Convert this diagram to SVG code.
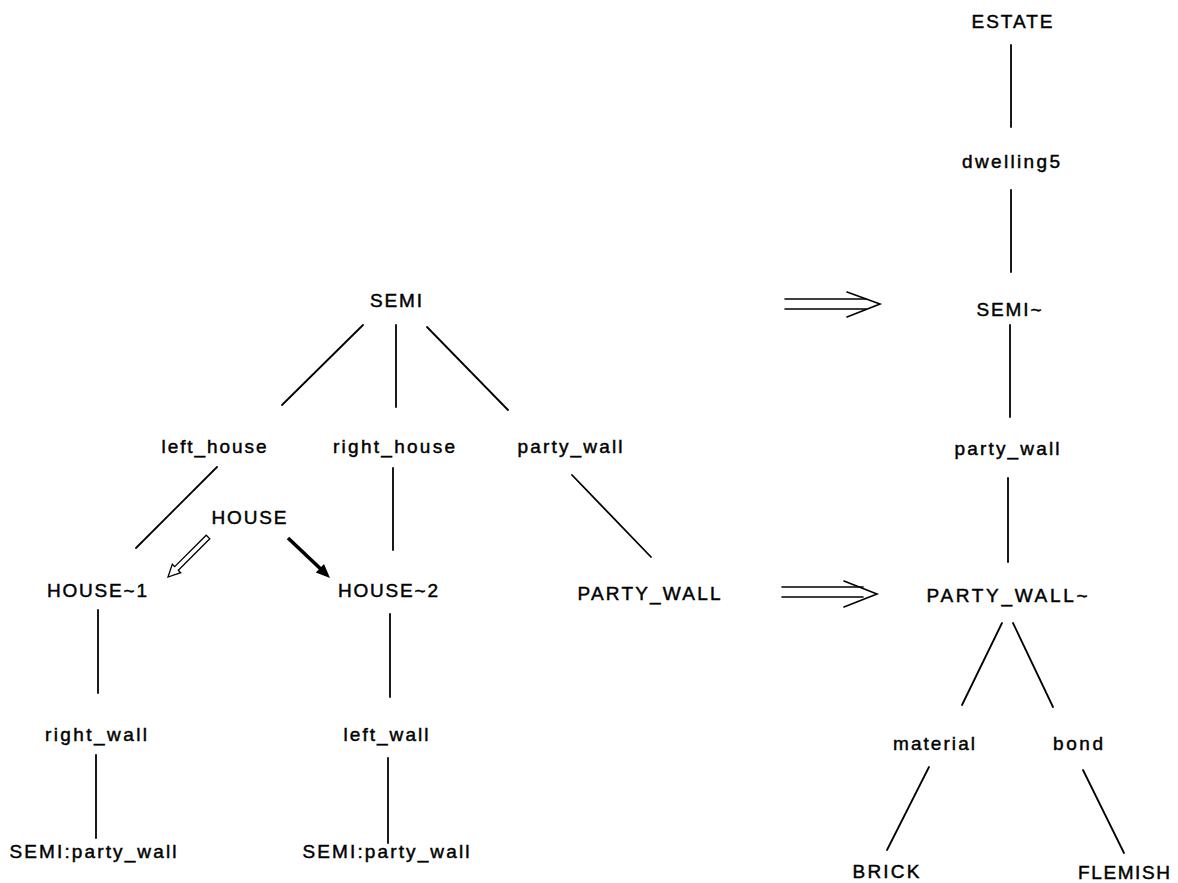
<svg xmlns="http://www.w3.org/2000/svg" width="1178" height="883" viewBox="0 0 1178 883">
  <style>
    .lbl { font-family: "Liberation Sans", Arial, sans-serif; font-size: 19px; fill: #000; stroke: #000; stroke-width: 0.45px; text-anchor: middle; }
    .edge { stroke: #000; stroke-width: 1.8; fill: none; stroke-linecap: round; }
    .imp { stroke: #000; stroke-width: 1.6; fill: none; stroke-linecap: round; stroke-linejoin: miter; }
  </style>
  <rect width="1178" height="883" fill="#fff"/>

  <!-- tree edges -->
  <g id="connectors">
    <line class="edge" x1="363" y1="325" x2="282" y2="405"/>
    <line class="edge" x1="396" y1="325" x2="396" y2="407"/>
    <line class="edge" x1="427" y1="327" x2="508" y2="410"/>
    <line class="edge" x1="217" y1="467" x2="136" y2="548"/>
    <line class="edge" x1="393" y1="468" x2="393" y2="550"/>
    <line class="edge" x1="572" y1="475" x2="651" y2="557"/>
    <line class="edge" x1="98" y1="610" x2="98" y2="693"/>
    <line class="edge" x1="96" y1="755" x2="96" y2="838"/>
    <line class="edge" x1="390" y1="614" x2="390" y2="697"/>
    <line class="edge" x1="388" y1="758" x2="388" y2="843"/>
    <line class="edge" x1="1011" y1="45" x2="1011" y2="127"/>
    <line class="edge" x1="1011" y1="190" x2="1011" y2="272"/>
    <line class="edge" x1="1010" y1="325" x2="1010" y2="417"/>
    <line class="edge" x1="1008" y1="478" x2="1008" y2="562"/>
    <line class="edge" x1="1002" y1="623" x2="962" y2="705"/>
    <line class="edge" x1="1013" y1="623" x2="1053" y2="707"/>
    <line class="edge" x1="929" y1="767" x2="887" y2="850"/>
    <line class="edge" x1="1083" y1="770" x2="1124" y2="853"/>

    <!-- hollow arrow HOUSE to HOUSE~1 -->
    <polygon fill="#fff" stroke="#000" stroke-width="1.3" stroke-linejoin="miter"
      points="209.8,538.8 178.3,570.3 180.7,572.7 168,577 172.3,564.3 174.7,566.7 206.2,535.2"/>
    <!-- solid arrow HOUSE to HOUSE~2 -->
    <line x1="288" y1="538" x2="320.5" y2="568.8" stroke="#000" stroke-width="3.6"/>
    <polygon fill="#000" points="330,578 315.8,572.6 324.0,564.0"/>

    <!-- double implication arrows -->
    <g id="imp-top">
      <line class="imp" x1="785" y1="299" x2="866" y2="299"/>
      <line class="imp" x1="785" y1="309" x2="866" y2="309"/>
      <polyline class="imp" points="847,292 880,304 847,317"/>
    </g>
    <g id="imp-bottom">
      <line class="imp" x1="782" y1="587" x2="863" y2="587"/>
      <line class="imp" x1="782" y1="597" x2="863" y2="597"/>
      <polyline class="imp" points="844,581 877,594 844,607"/>
    </g>
  </g>

  <!-- left structure -->
  <g id="semi"><text class="lbl" x="396" y="307" textLength="52" lengthAdjust="spacing">SEMI</text></g>
  <g id="left_house"><text class="lbl" x="214" y="453" textLength="105" lengthAdjust="spacing">left_house</text></g>
  <g id="right_house"><text class="lbl" x="394" y="453" textLength="122" lengthAdjust="spacing">right_house</text></g>
  <g id="party_wall_l"><text class="lbl" x="570" y="453" textLength="105" lengthAdjust="spacing">party_wall</text></g>
  <g id="house"><text class="lbl" x="249" y="524" textLength="75" lengthAdjust="spacing">HOUSE</text></g>
  <g id="house1"><text class="lbl" x="97" y="597" textLength="100" lengthAdjust="spacing">HOUSE~1</text></g>
  <g id="house2"><text class="lbl" x="388" y="597" textLength="100" lengthAdjust="spacing">HOUSE~2</text></g>
  <g id="party_wall_cap"><text class="lbl" x="649" y="600" textLength="143" lengthAdjust="spacing">PARTY_WALL</text></g>
  <g id="right_wall"><text class="lbl" x="96" y="741" textLength="102" lengthAdjust="spacing">right_wall</text></g>
  <g id="left_wall"><text class="lbl" x="386" y="741" textLength="85" lengthAdjust="spacing">left_wall</text></g>
  <g id="semi_pw1"><text class="lbl" x="93" y="858" textLength="167" lengthAdjust="spacing">SEMI:party_wall</text></g>
  <g id="semi_pw2"><text class="lbl" x="386" y="858" textLength="167" lengthAdjust="spacing">SEMI:party_wall</text></g>

  <!-- right structure -->
  <g id="estate"><text class="lbl" x="1012" y="28" textLength="81" lengthAdjust="spacing">ESTATE</text></g>
  <g id="dwelling5"><text class="lbl" x="1011" y="168" textLength="98" lengthAdjust="spacing">dwelling5</text></g>
  <g id="semi_t"><text class="lbl" x="1009" y="316" textLength="65" lengthAdjust="spacing">SEMI~</text></g>
  <g id="party_wall_r"><text class="lbl" x="1007" y="455" textLength="105" lengthAdjust="spacing">party_wall</text></g>
  <g id="party_wall_t"><text class="lbl" x="1007" y="602" textLength="161" lengthAdjust="spacing">PARTY_WALL~</text></g>
  <g id="material"><text class="lbl" x="934" y="750" textLength="82" lengthAdjust="spacing">material</text></g>
  <g id="bond"><text class="lbl" x="1078" y="750" textLength="50" lengthAdjust="spacing">bond</text></g>
  <g id="brick"><text class="lbl" x="886" y="878" textLength="67" lengthAdjust="spacing">BRICK</text></g>
  <g id="flemish"><text class="lbl" x="1124" y="879" textLength="92" lengthAdjust="spacing">FLEMISH</text></g>
</svg>
